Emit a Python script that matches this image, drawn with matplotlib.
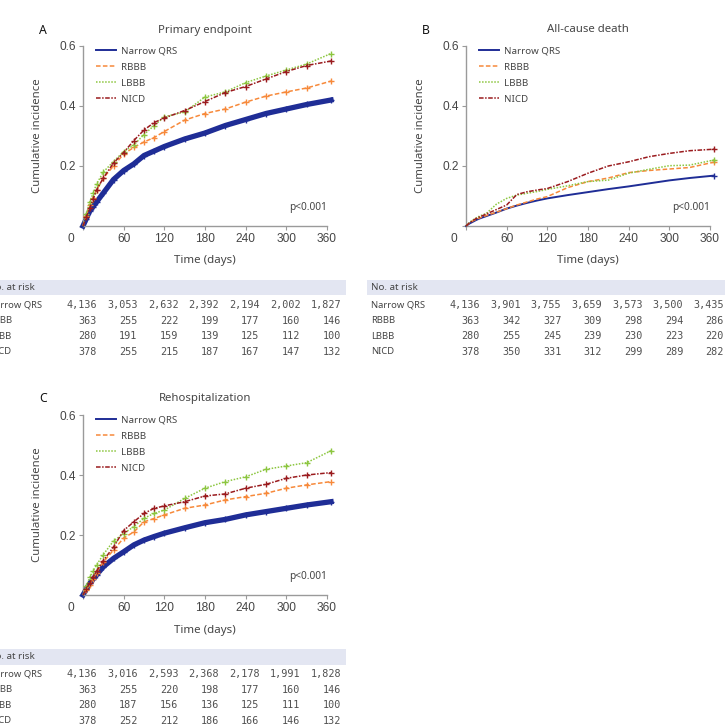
"""Cumulative incidence curves by QRS morphology, three endpoints, with risk tables."""

import matplotlib

matplotlib.use("Agg")
import matplotlib.pyplot as plt
from matplotlib.patches import Rectangle

W = 725  # figure size in pixels (square)

GROUPS = ["Narrow QRS", "RBBB", "LBBB", "NICD"]
COLORS = ["#1f2d96", "#f7893a", "#8cc63f", "#9a1b1e"]
STYLES = ["-", (0, (3, 1.5)), (0, (1, 1)), (0, (3, 1, 1, 1))]

DAYS = [0, 5, 10, 15, 20, 30, 45, 60, 75, 90, 105, 120, 150, 180, 210, 240, 270, 300, 330, 366]

# A - primary endpoint
PRIMARY_NARROW = [0, .025, .05, .065, .08, .11, .155, .185, .207, .235, .25, .265, .29, .31, .335, .355, .375, .39, .405, .42]
PRIMARY_RBBB = [0, .035, .07, .095, .12, .16, .20, .24, .262, .28, .295, .315, .353, .375, .39, .413, .433, .447, .46, .483]
PRIMARY_LBBB = [0, .04, .08, .11, .14, .18, .215, .248, .27, .305, .335, .364, .38, .43, .447, .478, .50, .52, .54, .575]
PRIMARY_NICD = [0, .03, .06, .09, .12, .16, .21, .245, .285, .32, .345, .36, .385, .415, .445, .465, .49, .515, .535, .55]

# B - all-cause death
DEATH_NARROW = [0, .008, .014, .02, .025, .033, .045, .058, .068, .077, .085, .092, .103, .113, .123, .132, .142, .152, .16, .168]
DEATH_RBBB = [0, .01, .017, .022, .027, .035, .046, .058, .07, .08, .09, .098, .128, .148, .16, .178, .185, .19, .195, .213]
DEATH_LBBB = [0, .012, .02, .027, .033, .042, .073, .092, .103, .109, .115, .122, .134, .148, .153, .176, .189, .201, .203, .22]
DEATH_NICD = [0, .01, .018, .025, .03, .04, .055, .07, .105, .114, .12, .125, .148, .176, .2, .214, .231, .242, .251, .256]

# C - rehospitalization
REHOSP_NARROW = [0, .02, .039, .053, .067, .094, .122, .144, .167, .183, .195, .206, .224, .241, .252, .267, .278, .289, .3, .311]
REHOSP_RBBB = [0, .017, .035, .055, .075, .11, .15, .19, .21, .244, .255, .267, .289, .3, .317, .328, .339, .356, .367, .378]
REHOSP_LBBB = [0, .03, .06, .08, .1, .135, .18, .205, .228, .256, .272, .283, .322, .356, .378, .394, .419, .43, .441, .481]
REHOSP_NICD = [0, .02, .04, .06, .08, .115, .16, .215, .244, .272, .289, .297, .311, .33, .337, .356, .369, .389, .4, .408]

RISK_DAYS = [0, 60, 120, 180, 240, 300, 360]
RISK_PRIMARY = [
    [4136, 3053, 2632, 2392, 2194, 2002, 1827],
    [363, 255, 222, 199, 177, 160, 146],
    [280, 191, 159, 139, 125, 112, 100],
    [378, 255, 215, 187, 167, 147, 132],
]
RISK_DEATH = [
    [4136, 3901, 3755, 3659, 3573, 3500, 3435],
    [363, 342, 327, 309, 298, 294, 286],
    [280, 255, 245, 239, 230, 223, 220],
    [378, 350, 331, 312, 299, 289, 282],
]
RISK_REHOSP = [
    [4136, 3016, 2593, 2368, 2178, 1991, 1828],
    [363, 255, 220, 198, 177, 160, 146],
    [280, 187, 156, 136, 125, 111, 100],
    [378, 252, 212, 186, 166, 146, 132],
]

PANELS = [
    ("A", "Primary endpoint", [PRIMARY_NARROW, PRIMARY_RBBB, PRIMARY_LBBB, PRIMARY_NICD], RISK_PRIMARY, (83, 226), True),
    ("B", "All-cause death", [DEATH_NARROW, DEATH_RBBB, DEATH_LBBB, DEATH_NICD], RISK_DEATH, (466, 226), False),
    ("C", "Rehospitalization", [REHOSP_NARROW, REHOSP_RBBB, REHOSP_LBBB, REHOSP_NICD], RISK_REHOSP, (83, 595), True),
]

AX_W, AX_H = 244, 180
TEXT = "#454545"
AXIS = "#9a9a9a"
SANS = ["Noto Sans", "DejaVu Sans"]


def fxy(x, y):
    return x / W, 1 - y / W


def draw_panel(fig, letter, title, curves, risk, origin, dense):
    x0, y0 = origin
    ax = fig.add_axes([x0 / W, 1 - y0 / W, AX_W / W, AX_H / W])
    for spine in ("top", "right"):
        ax.spines[spine].set_visible(False)
    for spine in ("left", "bottom"):
        ax.spines[spine].set_color(AXIS)
        ax.spines[spine].set_linewidth(1.0)
    ax.set_xlim(0, 360)
    ax.set_ylim(0, 0.6)
    ax.set_xticks(RISK_DAYS)
    ax.set_xticklabels([""] + [str(d) for d in RISK_DAYS[1:]])
    ax.set_yticks([0, 0.2, 0.4, 0.6])
    ax.set_yticklabels(["", "0.2", "0.4", "0.6"])
    ax.tick_params(length=3, color=AXIS, labelsize=8.6, labelcolor=TEXT, pad=2)
    for lab in ax.get_xticklabels() + ax.get_yticklabels():
        lab.set_family("Liberation Sans")
    ax.annotate("0", xy=(0, 0), xycoords="axes fraction", xytext=(-9, -5),
                textcoords="offset points", ha="center", va="top",
                fontsize=8.6, color=TEXT, family="Liberation Sans")

    for i, (name, values) in enumerate(zip(GROUPS, curves)):
        color = COLORS[i]
        if i == 0 and dense:
            ax.plot(DAYS, values, color=color, lw=3.8, clip_on=False, zorder=2)
        ax.plot(DAYS, values, color=color, lw=1.4 if i == 0 else 1.1,
                linestyle=STYLES[i], label=name, clip_on=False, zorder=3)
        mark_at = list(range(1, len(DAYS))) if dense else [len(DAYS) - 1]
        ax.plot(DAYS, values, linestyle="none", marker="+", markersize=4.5,
                markeredgewidth=1.0, color=color, markevery=mark_at,
                clip_on=False, zorder=3)

    leg = ax.legend(loc="upper left", bbox_to_anchor=(0.052, 0.995), frameon=False,
                    fontsize=7.0, handlelength=2.1, handletextpad=0.5,
                    labelspacing=0.72, borderpad=0, borderaxespad=0)
    for t in leg.get_texts():
        t.set_color(TEXT)
        t.set_family(SANS)

    ax.text(1.0, 0.105, "p<0.001", transform=ax.transAxes, ha="right", va="center",
            fontsize=7.3, color=TEXT, family=SANS)
    ax.set_ylabel("Cumulative incidence", fontsize=8.2, color=TEXT, family=SANS, labelpad=12)

    fig.text(*fxy(x0 + AX_W / 2, y0 - AX_H - 16), title, ha="center", va="center",
             fontsize=8.2, color=TEXT, family=SANS)
    fig.text(*fxy(x0 - 40, y0 - AX_H - 16), letter, ha="center", va="center",
             fontsize=8.8, color="#111111", weight="bold", family=SANS)
    fig.text(*fxy(x0 + AX_W / 2, y0 + 35), "Time (days)", ha="center", va="center",
             fontsize=8.3, color=TEXT, family=SANS)

    # number at risk table
    bx, by = fxy(x0 - 99, y0 + 69.5)
    fig.add_artist(Rectangle((bx, by), 362 / W, 15.3 / W, transform=fig.transFigure,
                             facecolor="#e3e6f2", edgecolor="none", zorder=0))
    fig.text(*fxy(x0 - 95, y0 + 61.8), "No. at risk", ha="left", va="center",
             fontsize=7.0, color=TEXT, family=SANS)
    step = AX_W / 6
    for r, (name, counts) in enumerate(zip(GROUPS, risk)):
        ry = y0 + 79 + 15.6 * r
        fig.text(*fxy(x0 - 95, ry), name, ha="left", va="center",
                 fontsize=6.8, color=TEXT, family=SANS)
        for c, n in enumerate(counts):
            fig.text(*fxy(x0 + 14 + step * c, ry), f"{n:,}", ha="right", va="center",
                     fontsize=7.3, color="#505050", family="DejaVu Sans Mono")


def main():
    fig = plt.figure(figsize=(W / 100, W / 100), dpi=100)
    fig.patch.set_facecolor("white")
    for letter, title, curves, risk, origin, dense in PANELS:
        draw_panel(fig, letter, title, curves, risk, origin, dense)
    fig.savefig("out.png", dpi=100, facecolor="white")
    plt.close(fig)


if __name__ == "__main__":
    main()
